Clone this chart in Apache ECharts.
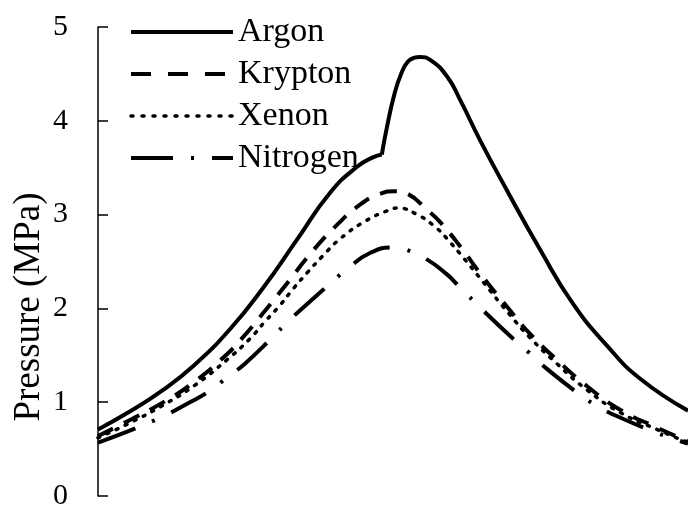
<!DOCTYPE html>
<html>
<head>
<meta charset="utf-8">
<script src="https://cdn.jsdelivr.net/npm/echarts@6/dist/echarts.min.js"></script>
<style>html,body{margin:0;padding:0;background:#fff}#c{width:688px;height:511px}</style>
</head>
<body>
<div id="c"></div>
<script>
const seriesNames = ['Argon', 'Krypton', 'Xenon', 'Nitrogen'];
const yTicks = [0, 1, 2, 3, 4, 5];
const argon = [[0,0.71],[5.1,0.89],[10.8,1.12],[16.4,1.40],[22.4,1.78],[28.0,2.22],[33.7,2.73],[39.3,3.23],[43.9,3.51],[46.6,3.61],[48.1,3.64],[49.0,3.94],[50.3,4.30],[51.5,4.52],[52.5,4.63],[53.5,4.67],[54.6,4.68],[56.3,4.65],[59.2,4.47],[61.4,4.22],[64.7,3.80],[69.3,3.26],[74.9,2.63],[80.5,2.05],[86.3,1.60],[91.9,1.25],[100,0.91]];
const argonKinkIndex = 10;
const krypton = [[0,0.64],[5.1,0.80],[10.8,0.99],[16.4,1.22],[22.0,1.52],[24.4,1.68],[28.0,1.95],[32.2,2.28],[36.1,2.59],[40.5,2.89],[44.7,3.12],[47.8,3.22],[50.3,3.25],[52.5,3.22],[55.8,3.05],[58.0,2.92],[61.4,2.66],[65.3,2.33],[69.3,2.02],[73.2,1.73],[77.8,1.45],[82.9,1.17],[88.5,0.92],[94.7,0.73],[100,0.58]];
const xenon = [[0,0.62],[5.1,0.77],[10.8,0.96],[16.4,1.18],[22.0,1.46],[25.8,1.68],[28.3,1.86],[30.8,2.03],[33.1,2.21],[35.6,2.39],[38.1,2.56],[41.0,2.74],[45.3,2.93],[49.0,3.04],[50.7,3.07],[54.1,3.00],[57.5,2.85],[59.2,2.74],[61.4,2.58],[65.3,2.28],[69.3,1.97],[73.2,1.69],[77.8,1.41],[82.9,1.13],[88.5,0.89],[94.7,0.71],[100,0.57]];
const nitrogen = [[0,0.57],[9.7,0.81],[15.9,1.01],[18.9,1.12],[22.0,1.27],[24.9,1.41],[29.7,1.70],[32.2,1.86],[37.3,2.15],[39.8,2.29],[42.4,2.43],[46.1,2.59],[50.0,2.65],[52.0,2.63],[55.8,2.52],[59.2,2.36],[60.8,2.26],[65.9,1.94],[71.0,1.64],[73.2,1.52],[75.8,1.37],[81.7,1.08],[84.6,0.96],[88.0,0.85],[95.3,0.66],[100,0.56]];

const font = '"Liberation Serif", "Times New Roman", serif';
const chart = echarts.init(document.getElementById('c'));
const styles = {
  Argon: {type: 'solid', width: 4},
  Krypton: {type: [17, 12], width: 4},
  Xenon: {type: [2, 8], width: 3.5, cap: 'round'},
  Nitrogen: {type: [40, 18, 3, 18], width: 4}
};
const legendStyles = {
  Argon: {type: 'solid', width: 4},
  Krypton: {type: [20, 17], width: 4},
  Xenon: {type: [2, 9], width: 3.5, cap: 'round'},
  Nitrogen: {type: [42, 18, 3, 18], width: 4}
};
function mk(name, data, smooth) {
  return {
    name: name, type: 'line', data: data, smooth: smooth, symbol: 'none',
    lineStyle: Object.assign({color: '#000'}, styles[name]),
    itemStyle: {color: '#000'}
  };
}
const series = [
  mk('Argon', argon.slice(0, argonKinkIndex + 1), 0.5),
  mk('Argon', argon.slice(argonKinkIndex), 0.5),
  mk('Krypton', krypton, 0.5),
  mk('Xenon', xenon, 0.5),
  mk('Nitrogen', nitrogen, 0.5)
];
chart.setOption({
  animation: false,
  backgroundColor: '#fff',
  grid: {left: 98, right: 0, top: 27, bottom: 13, containLabel: false},
  legend: {
    orient: 'vertical', left: 124, top: 10,
    itemWidth: 102, itemHeight: 24, itemGap: 8,
    itemStyle: {opacity: 0},
    textStyle: {fontFamily: font, fontSize: 34, color: '#000'},
    data: seriesNames.map(n => ({name: n, lineStyle: Object.assign({color: '#000'}, legendStyles[n])}))
  },
  xAxis: {type: 'value', min: 0, max: 100, show: false},
  yAxis: {
    type: 'value', min: yTicks[0], max: yTicks[yTicks.length-1], interval: 1,
    axisLine: {show: true, lineStyle: {color: '#000', width: 1.5}},
    axisTick: {show: true, inside: true, length: 10, lineStyle: {color: '#000', width: 1.5}},
    axisLabel: {color: '#000', fontFamily: font, fontSize: 30, margin: 30},
    splitLine: {show: false}
  },
  graphic: [{
    type: 'text', x: 29, y: 307, rotation: Math.PI/2,
    style: {text: 'Pressure (MPa)', font: '37px ' + font, fill: '#000', textAlign: 'center', textVerticalAlign: 'middle'}
  }],
  series: series
});
</script>
</body>
</html>
